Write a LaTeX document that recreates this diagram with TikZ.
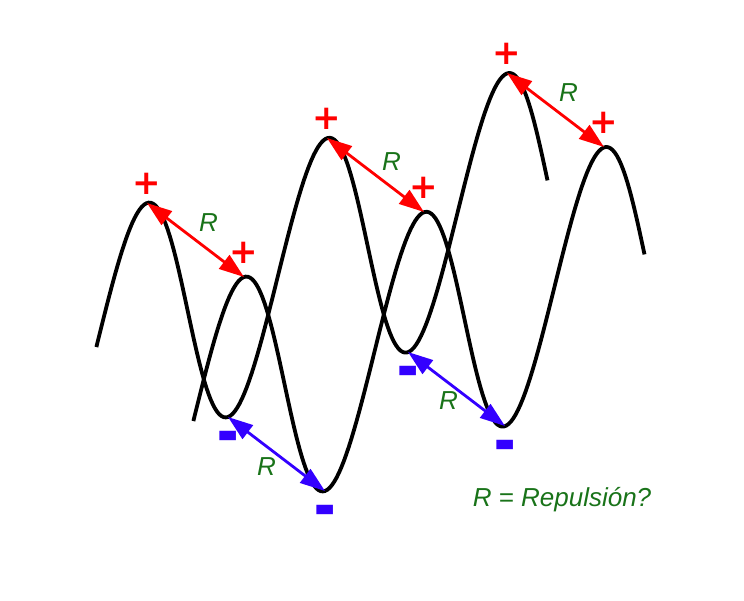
\documentclass[tikz,border=0pt]{standalone}
\usepackage{fontspec}
\setmainfont{Liberation Sans}
\newfontfamily\signfont{DejaVu Sans Bold}
\usetikzlibrary{arrows.meta}
\definecolor{vert}{rgb}{0.1,0.45,0.1}
\definecolor{bleu}{rgb}{0.2,0,1}

\begin{document}
\begin{tikzpicture}[x=1pt,y=-1pt,
    onde/.style={line width=3.8pt},
    rep/.style={line width=2.8pt,{Triangle[length=25pt,width=17pt]}-{Triangle[length=25pt,width=17pt]}},
    lab/.style={text=vert,font=\itshape\fontsize{26}{26}\selectfont,inner sep=0pt},
    plus/.style={text=red,font=\signfont\fontsize{34}{34}\selectfont,inner sep=0pt},
    moins/.style={text=bleu,font=\bfseries\fontsize{33}{33}\selectfont,inner sep=0pt}]
      \useasboundingbox (0,0) rectangle (744,600) ;
      % les deux ondes
      \draw[onde] plot[domain=-92:810,samples=200,variable=\t] %
      ({147+\t/2+4.5*(cos(\t)-1)},{326.2-0.18*\t-123.2*cos(\t)}) ;
      \draw[onde,shift={(97,74)}] plot[domain=-92:810,samples=200,variable=\t] %
      ({147+\t/2+4.5*(cos(\t)-1)},{326.2-0.18*\t-123.2*cos(\t)}) ;
      % sommets et creux
      \coordinate (a1) at (147,203) ;
      \coordinate (a2) at (327,138) ;
      \coordinate (a3) at (507,73) ;
      \coordinate (b1) at (228,417) ;
      \coordinate (b2) at (408,352) ;
      \coordinate (c1) at (244,277) ;
      \coordinate (c2) at (424,212) ;
      \coordinate (c3) at (604,147) ;
      \coordinate (d1) at (325,491) ;
      \coordinate (d2) at (505,426) ;
      % repulsions
      \draw[rep,red] (a1) -- node[lab,xshift=13pt,yshift=17pt]{R} (c1) ;
      \draw[rep,red] (a2) -- node[lab,xshift=16pt,yshift=13pt]{R} (c2) ;
      \draw[rep,red] (a3) -- node[lab,xshift=13pt,yshift=17pt]{R} (c3) ;
      \draw[rep,bleu] (b1) -- node[lab,xshift=-10pt,yshift=-13pt]{R} (d1) ;
      \draw[rep,bleu] (b2) -- node[lab,xshift=-8pt,yshift=-12pt]{R} (d2) ;
      % charges
      \foreach \p in {a1,a2,a3}
        \node[plus] (plus-\p) at ([yshift=19pt]\p) {+} ;
      \foreach \p in {c1,c2,c3}
        \node[plus] (plus-\p) at ([yshift=24pt]\p) {+} ;
      \foreach \m in {b1,b2,d1,d2}
        \node[moins] (moins-\m) at ([yshift=-31pt]\m) {\scalebox{1}[2.6]{−}} ;
      \node[lab] (legende) at (562,500) {R = Repulsión?} ;
    \end{tikzpicture}
\end{document}
